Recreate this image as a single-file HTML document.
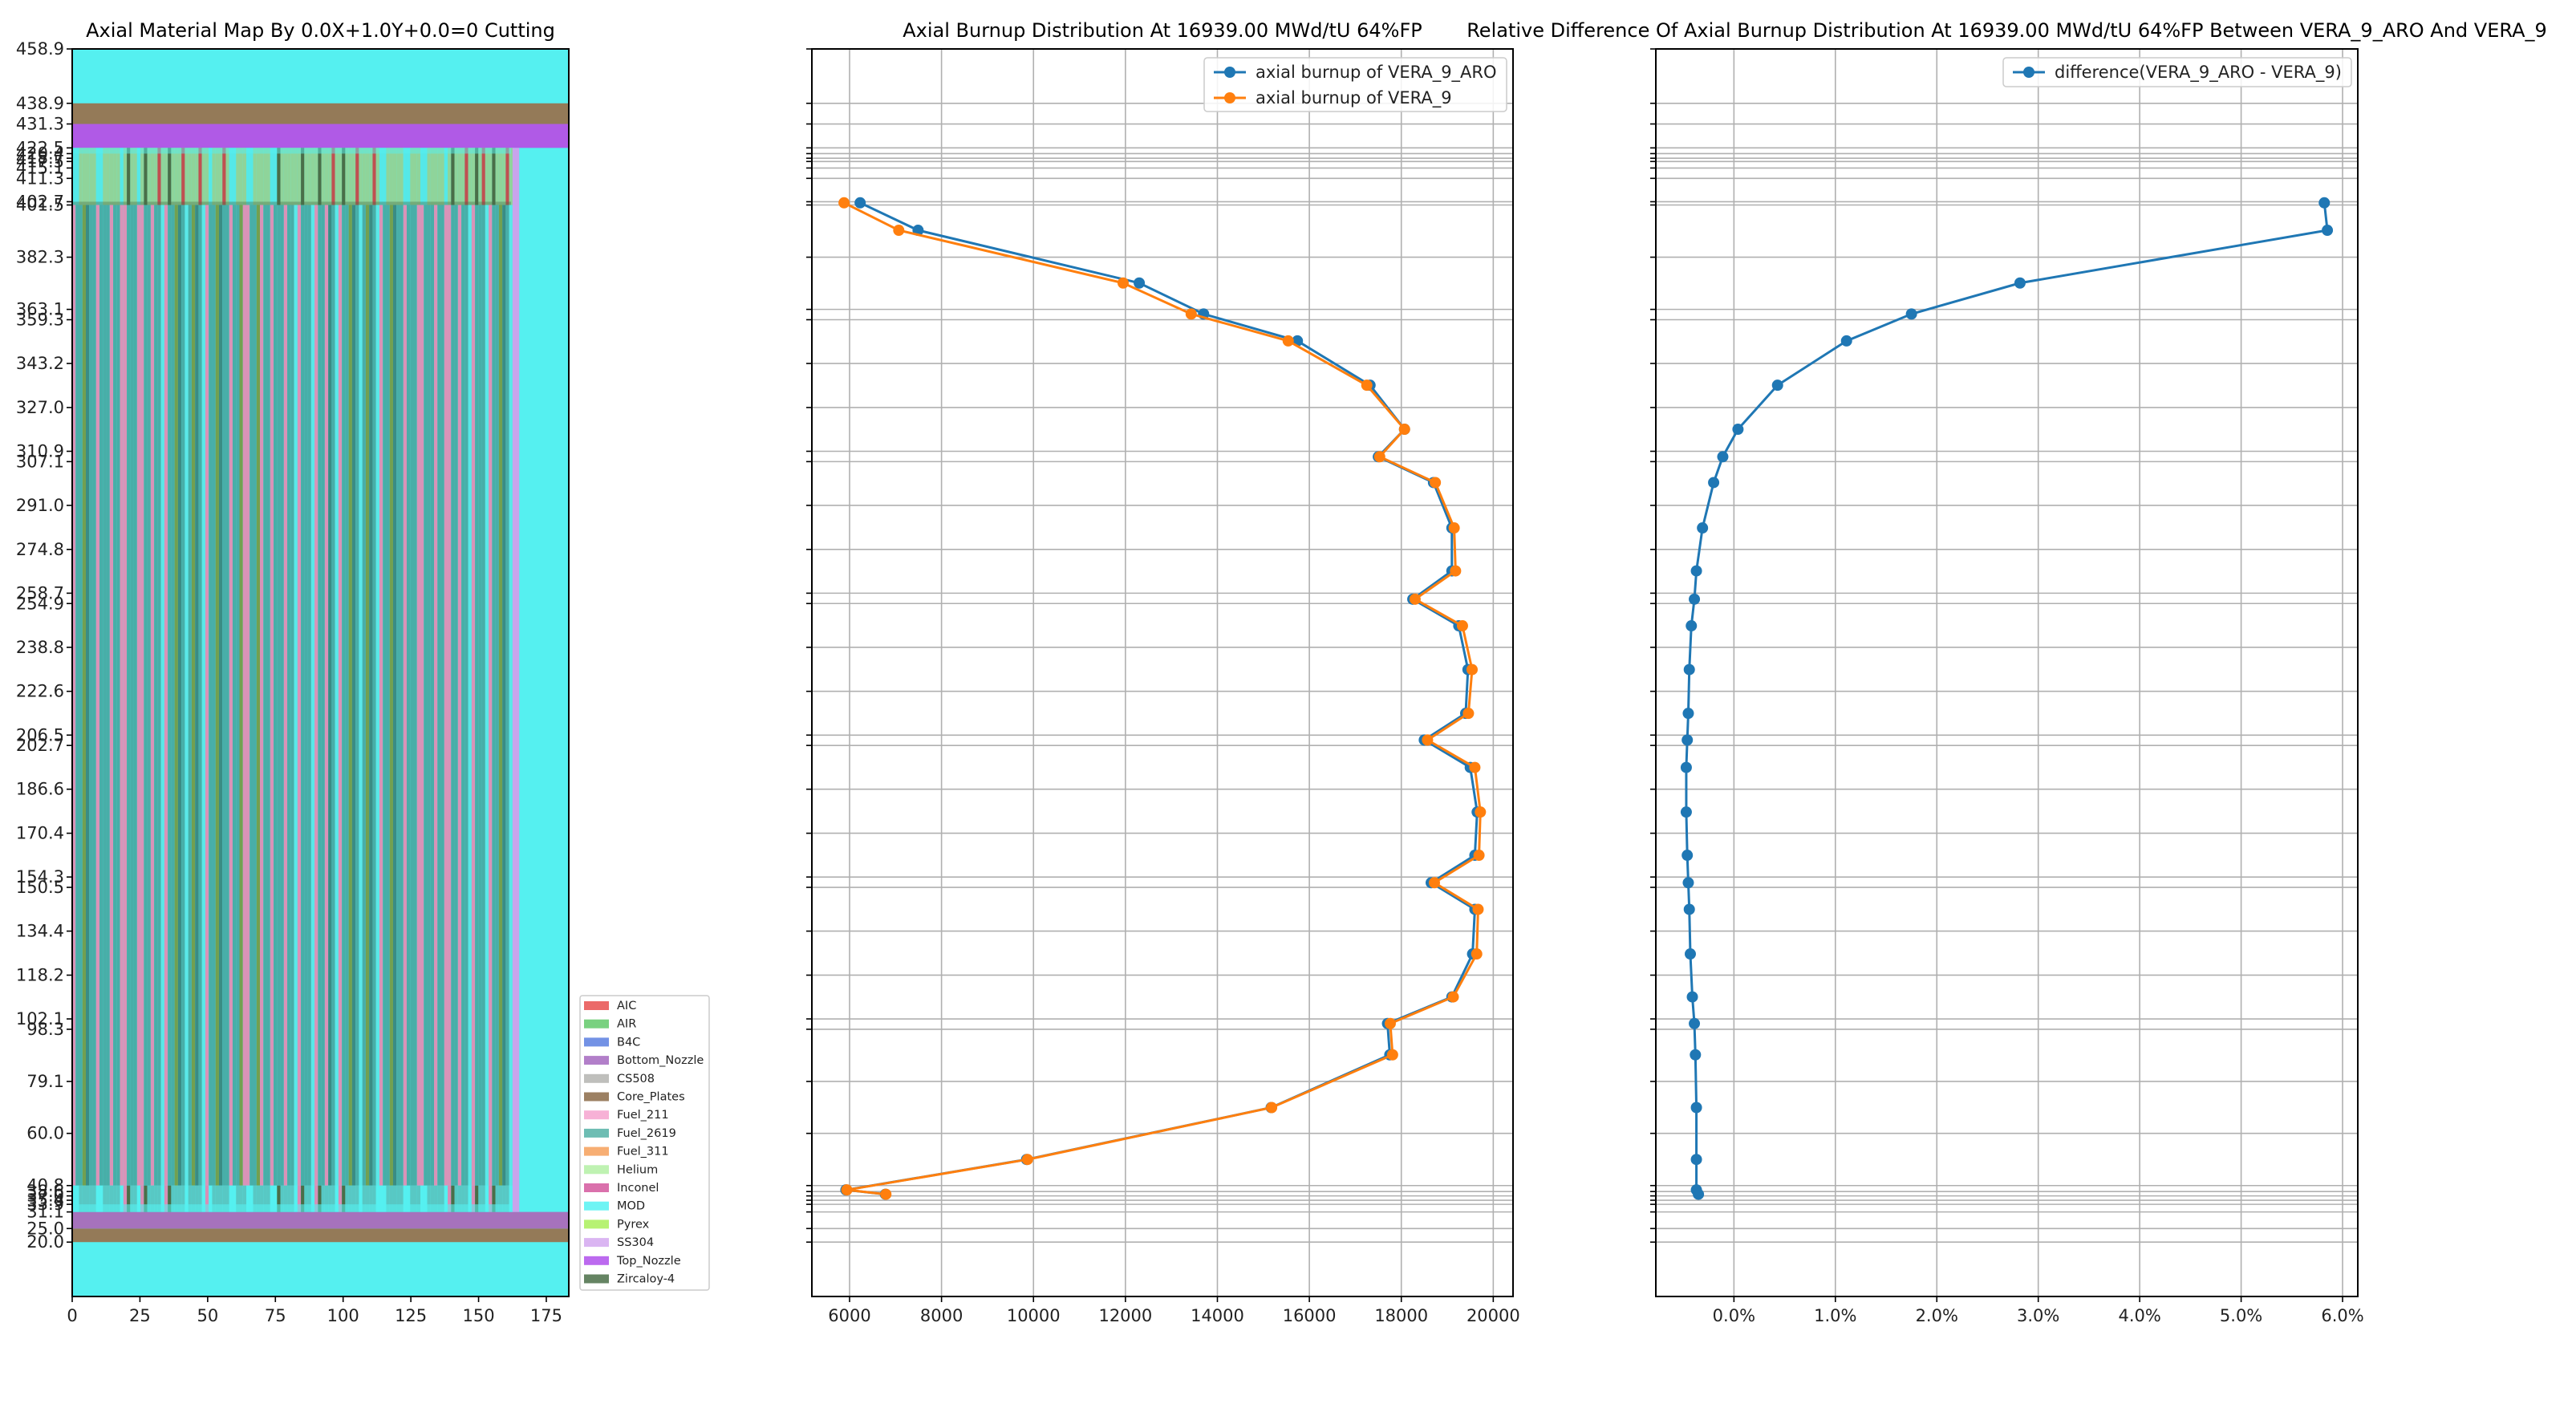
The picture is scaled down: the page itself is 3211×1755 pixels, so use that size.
<!DOCTYPE html>
<html><head><meta charset="utf-8">
<style>
html,body{margin:0;padding:0;background:#fff;}
svg{display:block;font-family:"DejaVu Sans","Liberation Sans",sans-serif;}
</style></head>
<body>
<svg id="fig" width="3211" height="1755" viewBox="0 0 3211 1755" xmlns="http://www.w3.org/2000/svg"></svg>
<script>
// ---- data ----
const yTickVals = [458.9,438.9,431.3,422.5,420.4,418.7,417.5,415.1,411.3,402.7,401.5,382.3,363.1,359.3,343.2,327.0,310.9,307.1,291.0,274.8,258.7,254.9,238.8,222.6,206.5,202.7,186.6,170.4,154.3,150.5,134.4,118.2,102.1,98.3,79.1,60.0,40.8,38.6,37.0,35.4,33.9,31.1,25.0,20.0];
const heights = [402.3,392.2,372.8,361.4,351.5,335.2,319.0,308.9,299.4,282.7,266.9,256.5,246.7,230.6,214.5,204.7,194.6,178.2,162.3,152.2,142.4,126.0,110.2,100.4,88.9,69.5,50.4,39.2,37.6];
const burnupARO = [6230,7490,12300,13700,15740,17320,18070,17500,18700,19100,19100,18250,19250,19450,19400,18500,19500,19650,19600,18650,19600,19550,19100,17700,17750,15170,9850,5920,6780];
const burnupV9 = [5880,7070,11950,13430,15540,17250,18070,17530,18740,19150,19180,18300,19330,19540,19460,18570,19600,19720,19690,18720,19670,19640,19130,17760,17810,15180,9870,5940,6790];
const diffPct = [5.82,5.85,2.82,1.75,1.11,0.43,0.04,-0.11,-0.20,-0.31,-0.37,-0.39,-0.42,-0.44,-0.45,-0.46,-0.47,-0.47,-0.46,-0.45,-0.44,-0.43,-0.41,-0.39,-0.38,-0.37,-0.37,-0.37,-0.35];
const midXTicks = [6000,8000,10000,12000,14000,16000,18000,20000];
const rightXTicks = [0,1,2,3,4,5,6];
const leftXTicks = [0,25,50,75,100,125,150,175];
const matNames = ["AIC","AIR","B4C","Bottom_Nozzle","CS508","Core_Plates","Fuel_211","Fuel_2619","Fuel_311","Helium","Inconel","MOD","Pyrex","SS304","Top_Nozzle","Zircaloy-4"];
const matColors = ["#e8504f","#62c96a","#5b7fe0","#a468c0","#b4b4b0","#8b6a48","#f6a3cf","#55b2a6","#f6a05a","#b4f0a4","#d4589e","#55f2f2","#aaf05a","#d4a8f0","#b050ec","#4a6e48"];

const NS="http://www.w3.org/2000/svg";
const svg=document.getElementById('fig');
function mk(tag,attrs,parent){const e=document.createElementNS(NS,tag);for(const k in attrs)e.setAttribute(k,attrs[k]);(parent||svg).appendChild(e);return e;}

const TOP=61,BOT=1616;
function yS(v){return BOT-(v/458.9)*(BOT-TOP);}

// ---- left panel: material map ----
const L={x0:90,x1:709};
function xL(v){return L.x0+v*(L.x1-L.x0)/183.3;}
const gL=mk('g',{});


function band(y0,y1,x0,x1,col,op){mk('rect',{x:xL(x0),y:yS(y1),width:xL(x1)-xL(x0),height:yS(y0)-yS(y1),fill:col,opacity:op==null?1:op},gL);}
band(0,458.9,0,183.3,'#55f0f0');
band(20,25,0,183.3,'#947a58');
band(25,31.1,0,183.3,'#a672bc');
band(431.3,438.9,0,183.3,'#947a58');
band(422.5,431.3,0,183.3,'#b05ae6');
band(31.1,422.5,162,165,'#c8a4ec');
// fuel stripes
const pitch=1.26;
let k=0;
for(let x=0;x<162;x+=pitch,k++){
  const m=(k*7+Math.floor(k/5)*3+Math.floor(k/17))%13;
  let fuel='#48aea8';
  if(m===0||m===5||m===10) fuel='#d993b8';
  else if(m===3) fuel='#5ae8e8';
  else if(m===8) fuel='#72a050';
  else if(m===2) fuel='#3a8c84';
  if(x>138 && x<158 && (m===1||m===6)) fuel='#e59050';
  band(40.8,401.5,x,x+pitch,fuel);
  let pl=(m===0||m===7)?'#55e8e8':(m===4?'#4a6e48':'#8fd49a');
  if(m===9) pl='#c05050';
  band(401.5,422.5,x,x+pitch,pl);
  let bp=(m===0||m===3||m===7)?'#55f0f0':(m===4?'#4a6e48':'#58c8c4');
  if(m===10) bp='#d68fb6';
  band(31.1,40.8,x,x+pitch,bp);
}
band(31.1,33.9,0,162,'#55f0f0',0.6);
band(401.5,402.7,0,162,'#4a6e48',0.4);
band(420.4,422.5,0,162,'#55f0f0',0.5);
mk('rect',{x:L.x0,y:TOP,width:L.x1-L.x0,height:BOT-TOP,fill:'none',stroke:'#000','stroke-width':2},gL);
yTickVals.forEach(v=>{
  const y=yS(v);
  const t=mk('line',{x1:L.x0-7,x2:L.x0,y1:y,y2:y,stroke:'#000','stroke-width':1.6});
  
  
  const lb=mk('text',{x:L.x0-10,y:y+7,'text-anchor':'end','font-size':21,fill:'#222'});
  lb.textContent=v.toFixed(1);
  
  
});
leftXTicks.forEach(v=>{
  const x=xL(v);
  mk('line',{x1:x,x2:x,y1:BOT,y2:BOT+7,stroke:'#000','stroke-width':1.6});
  const lb=mk('text',{x:x,y:BOT+31,'text-anchor':'middle','font-size':21,fill:'#222'});
  lb.textContent=v;
  
  
});
const t1=mk('text',{x:(L.x0+L.x1)/2,y:46,'text-anchor':'middle','font-size':24,fill:'#000'});
t1.textContent='Axial Material Map By 0.0X+1.0Y+0.0=0 Cutting';


const lg=mk('g',{});


mk('rect',{x:723,y:1241,width:161,height:367,fill:'#fff',stroke:'#ccc','stroke-width':1.5,rx:3},lg);
matNames.forEach((n,i)=>{
  const cy=1253+i*22.7;
  mk('rect',{x:728,y:cy-5,width:31,height:11,fill:matColors[i],opacity:0.85},lg);
  const tx=mk('text',{x:769,y:cy+5,'font-size':14.5,fill:'#222'},lg);
  tx.textContent=n;
  
  
});

function chart(x0,x1,xmin,xmax,ticks,fmt,series,title,legendBox){
  const g=mk('g',{});
  function xs(v){return x0+(v-xmin)/(xmax-xmin)*(x1-x0);}
  ticks.forEach(v=>{
    const x=xs(v);
    mk('line',{x1:x,x2:x,y1:TOP,y2:BOT,stroke:'#b0b0b0','stroke-width':1.6},g);
    mk('line',{x1:x,x2:x,y1:BOT,y2:BOT+7,stroke:'#000','stroke-width':1.6},g);
    const lb=mk('text',{x:x,y:BOT+31,'text-anchor':'middle','font-size':21,fill:'#222'},g);
    lb.textContent=fmt(v);
    
    
  });
  yTickVals.forEach(v=>{
    const y=yS(v);
    mk('line',{x1:x0,x2:x1,y1:y,y2:y,stroke:'#b0b0b0','stroke-width':1.6},g);
    mk('line',{x1:x0-7,x2:x0,y1:y,y2:y,stroke:'#000','stroke-width':1.6},g);
  });
  series.forEach(s=>{
    const pts=s.vals.map((v,i)=>xs(v)+','+yS(heights[i])).join(' ');
    const pl=mk('polyline',{points:pts,fill:'none',stroke:s.color,'stroke-width':3},g);
    
    
    s.vals.forEach((v,i)=>{
      const c=mk('circle',{cx:xs(v),cy:yS(heights[i]),r:7,fill:s.color},g);
      
      
    });
  });
  mk('rect',{x:x0,y:TOP,width:x1-x0,height:BOT-TOP,fill:'none',stroke:'#000','stroke-width':2},g);
  const tt=mk('text',{x:(x0+x1)/2,y:46,'text-anchor':'middle','font-size':24,fill:'#000'},g);
  tt.textContent=title;
  
  
  const lb=legendBox;
  const lgg=mk('g',{},g);
  
  
  mk('rect',{x:lb.x,y:lb.y,width:lb.w,height:lb.h,fill:'#fff','fill-opacity':0.85,stroke:'#ccc','stroke-width':1.5,rx:4},lgg);
  series.forEach((s,i)=>{
    const cy=lb.y+18+i*32;
    mk('line',{x1:lb.x+12,x2:lb.x+52,y1:cy,y2:cy,stroke:s.color,'stroke-width':3},lgg);
    mk('circle',{cx:lb.x+32,cy:cy,r:7,fill:s.color},lgg);
    const t=mk('text',{x:lb.x+64,y:cy+7,'font-size':21,fill:'#222'},lgg);
    t.textContent=s.label;
    
    
  });
  return g;
}
const gm=chart(1012,1886,5180,20430,midXTicks,v=>String(v),
  [{vals:burnupARO,color:'#1f77b4',name:'vera-9-aro',label:'axial burnup of VERA_9_ARO'},
   {vals:burnupV9,color:'#ff7f0e',name:'vera-9',label:'axial burnup of VERA_9'}],
  'Axial Burnup Distribution At 16939.00 MWd/tU 64%FP',{x:1501,y:72,w:377,h:67});


const gr=chart(2064,2939,-0.77,6.15,rightXTicks,v=>v.toFixed(1)+'%',
  [{vals:diffPct,color:'#1f77b4',name:'difference',label:'difference(VERA_9_ARO - VERA_9)'}],
  'Relative Difference Of Axial Burnup Distribution At 16939.00 MWd/tU 64%FP Between VERA_9_ARO And VERA_9',{x:2497,y:72,w:434,h:36});


</script>
</body></html>
